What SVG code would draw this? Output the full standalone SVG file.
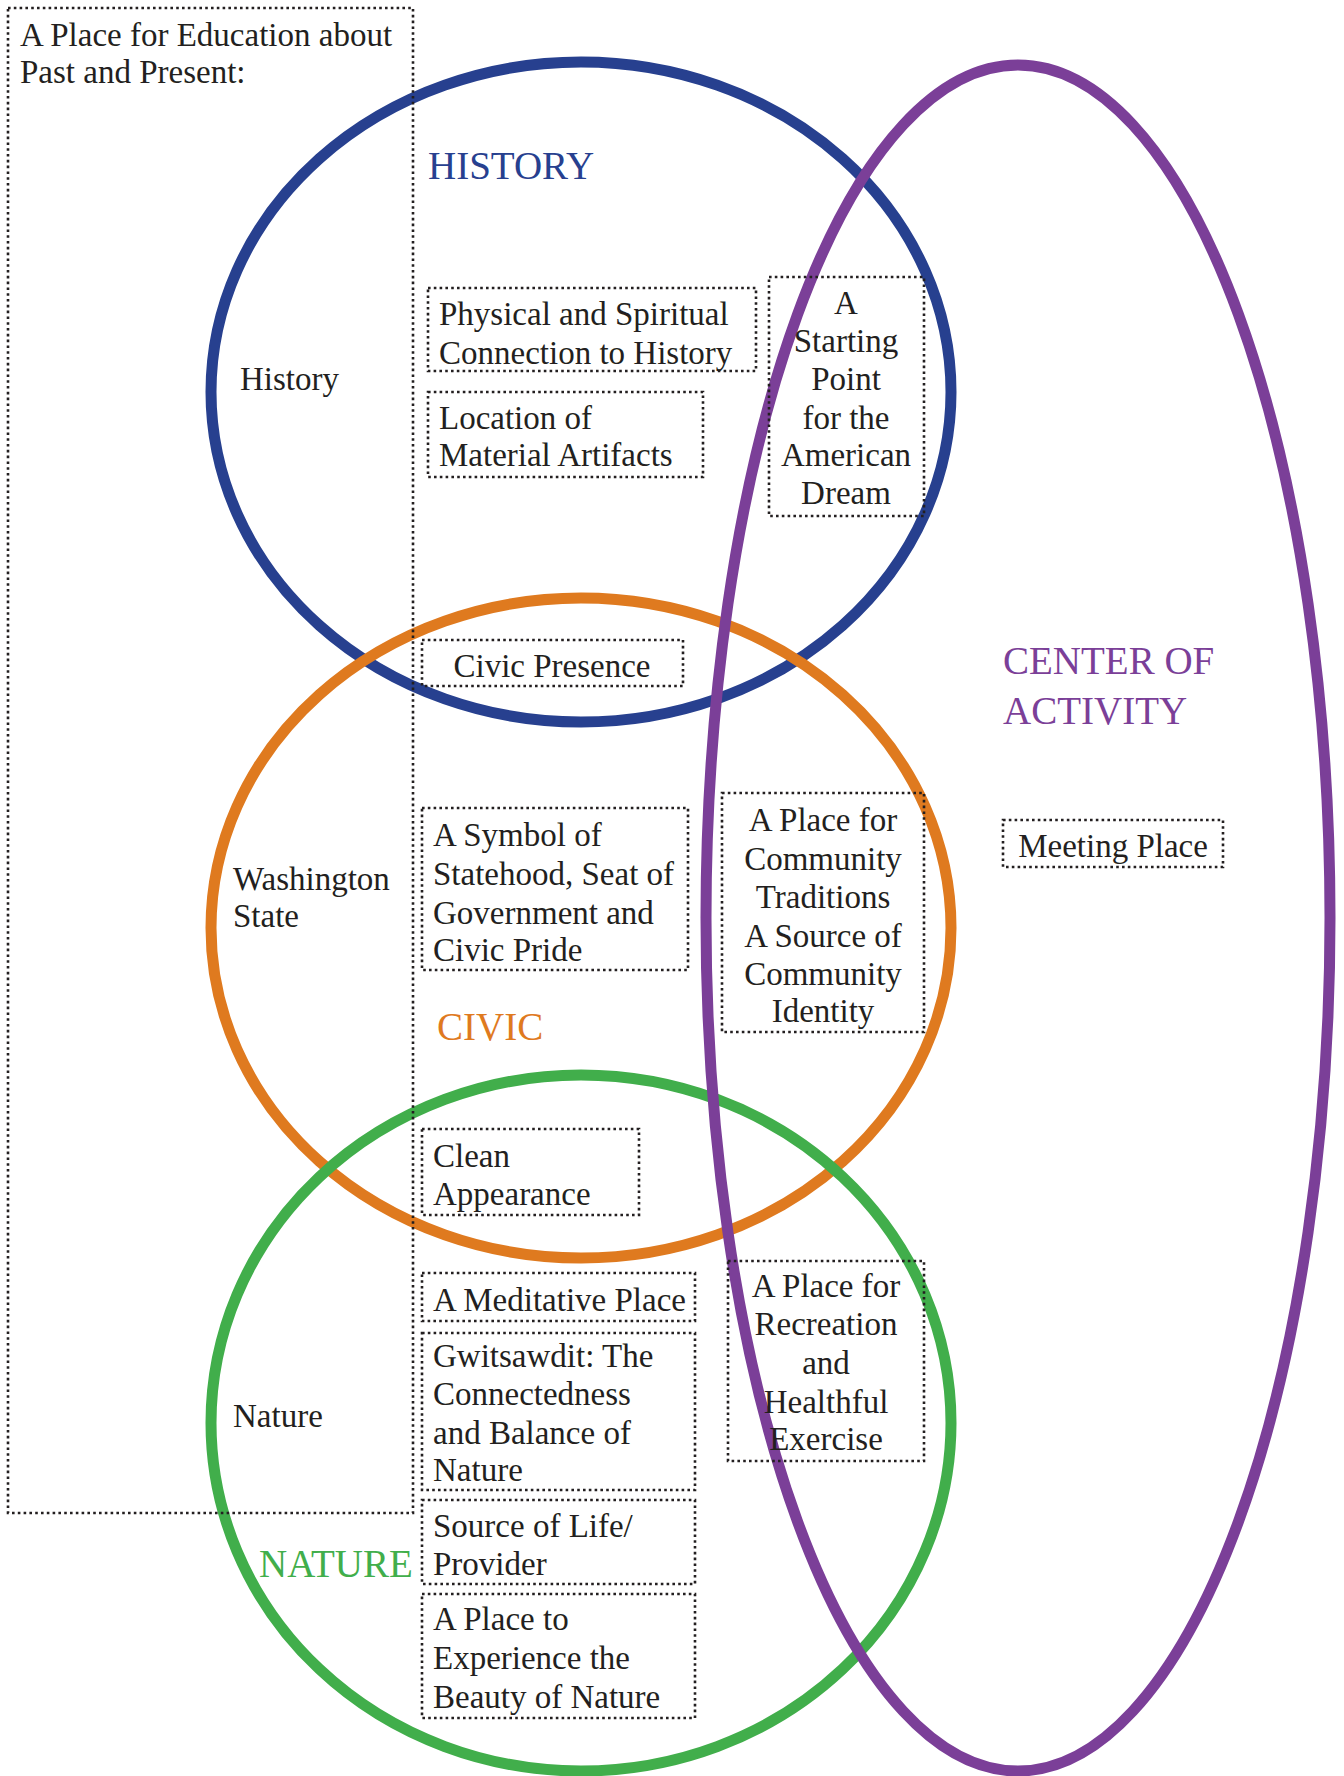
<svg xmlns="http://www.w3.org/2000/svg" width="1344" height="1776" viewBox="0 0 1344 1776">
<style>
.bg{fill:#ffffff}
.ring{fill:none;stroke-width:11}
.box{fill:none;stroke:#231F20;stroke-width:2.6;stroke-dasharray:2.6 3.2}
.t{font-family:"Liberation Serif","DejaVu Serif",serif;font-size:33px;fill:#231F20}
.c{text-anchor:middle}
.h{font-family:"Liberation Serif","DejaVu Serif",serif;font-size:39px}
</style>
<rect class="bg" x="0" y="0" width="1344" height="1776"/>
<g id="sets">
  <ellipse id="set-history" class="ring" cx="581" cy="392" rx="370" ry="330" stroke="#27408F"/>
  <ellipse id="set-civic" class="ring" cx="581" cy="928" rx="370" ry="330" stroke="#DF7A1F"/>
  <ellipse id="set-nature" class="ring" cx="581" cy="1423" rx="370" ry="348" stroke="#41AE4B"/>
  <ellipse id="set-activity" class="ring" cx="1018" cy="918" rx="312" ry="853" stroke="#7B3F98"/>
</g>
<g id="education">
  <rect class="box" x="8" y="8" width="405" height="1505"/>
  <text class="t" x="20" y="46">A Place for Education about</text>
  <text class="t" x="20" y="83">Past and Present:</text>
</g>
<g id="set-labels">
  <text class="h" x="428" y="179" fill="#27408F">HISTORY</text>
  <text class="h" x="437" y="1040" fill="#DF7A1F">CIVIC</text>
  <text class="h" x="259" y="1577" fill="#41AE4B">NATURE</text>
  <text class="h" x="1003" y="674" fill="#7B3F98">CENTER OF</text>
  <text class="h" x="1003" y="724" fill="#7B3F98">ACTIVITY</text>
</g>
<g id="row-labels">
  <text class="t" x="240" y="390">History</text>
  <text class="t" x="233" y="890">Washington</text>
  <text class="t" x="233" y="927">State</text>
  <text class="t" x="233" y="1427">Nature</text>
</g>
<g id="n-physical">
  <rect class="box" x="428" y="288" width="328" height="83"/>
  <text class="t" x="439" y="325">Physical and Spiritual</text>
  <text class="t" x="439" y="364">Connection to History</text>
</g>
<g id="n-artifacts">
  <rect class="box" x="428" y="392" width="275" height="85"/>
  <text class="t" x="439" y="429">Location of</text>
  <text class="t" x="439" y="466">Material Artifacts</text>
</g>
<g id="n-dream">
  <rect class="box" x="769" y="277" width="155" height="239"/>
  <text class="t c" x="846" y="314">A</text>
  <text class="t c" x="846" y="352">Starting</text>
  <text class="t c" x="846" y="390">Point</text>
  <text class="t c" x="846" y="429">for the</text>
  <text class="t c" x="846" y="466">American</text>
  <text class="t c" x="846" y="504">Dream</text>
</g>
<g id="n-civic-presence">
  <rect class="box" x="422" y="640" width="261" height="46"/>
  <text class="t c" x="552" y="677">Civic Presence</text>
</g>
<g id="n-symbol">
  <rect class="box" x="422" y="808" width="266" height="162"/>
  <text class="t" x="433" y="846">A Symbol of</text>
  <text class="t" x="433" y="885">Statehood, Seat of</text>
  <text class="t" x="433" y="924">Government and</text>
  <text class="t" x="433" y="961">Civic Pride</text>
</g>
<g id="n-community">
  <rect class="box" x="722" y="793" width="202" height="239"/>
  <text class="t c" x="823" y="831">A Place for</text>
  <text class="t c" x="823" y="870">Community</text>
  <text class="t c" x="823" y="908">Traditions</text>
  <text class="t c" x="823" y="947">A Source of</text>
  <text class="t c" x="823" y="985">Community</text>
  <text class="t c" x="823" y="1022">Identity</text>
</g>
<g id="n-meeting">
  <rect class="box" x="1003" y="820" width="220" height="47"/>
  <text class="t c" x="1113" y="857">Meeting Place</text>
</g>
<g id="n-clean">
  <rect class="box" x="422" y="1129" width="217" height="86"/>
  <text class="t" x="433" y="1167">Clean</text>
  <text class="t" x="433" y="1205">Appearance</text>
</g>
<g id="n-meditative">
  <rect class="box" x="422" y="1273" width="273" height="48"/>
  <text class="t" x="433" y="1311">A Meditative Place</text>
</g>
<g id="n-gwitsawdit">
  <rect class="box" x="422" y="1333" width="273" height="157"/>
  <text class="t" x="433" y="1367">Gwitsawdit: The</text>
  <text class="t" x="433" y="1405">Connectedness</text>
  <text class="t" x="433" y="1444">and Balance of</text>
  <text class="t" x="433" y="1481">Nature</text>
</g>
<g id="n-recreation">
  <rect class="box" x="728" y="1261" width="196" height="200"/>
  <text class="t c" x="826" y="1297">A Place for</text>
  <text class="t c" x="826" y="1335">Recreation</text>
  <text class="t c" x="826" y="1374">and</text>
  <text class="t c" x="826" y="1413">Healthful</text>
  <text class="t c" x="826" y="1450">Exercise</text>
</g>
<g id="n-source">
  <rect class="box" x="422" y="1500" width="273" height="84"/>
  <text class="t" x="433" y="1537">Source of Life/</text>
  <text class="t" x="433" y="1575">Provider</text>
</g>
<g id="n-beauty">
  <rect class="box" x="422" y="1594" width="273" height="124"/>
  <text class="t" x="433" y="1630">A Place to</text>
  <text class="t" x="433" y="1669">Experience the</text>
  <text class="t" x="433" y="1708">Beauty of Nature</text>
</g>
</svg>
